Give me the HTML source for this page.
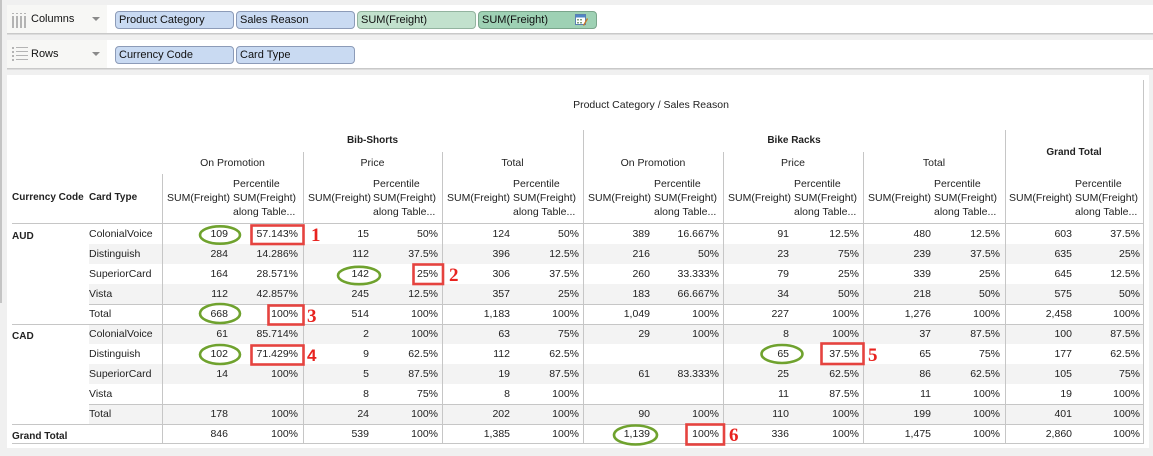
<!DOCTYPE html>
<html><head><meta charset="utf-8">
<style>
body{margin:0;width:1153px;height:456px;background:#f0f0f0;position:relative;overflow:hidden;font-family:"Liberation Sans",Arial,sans-serif;color:#222}
.a{position:absolute;white-space:nowrap}
.shelf{position:absolute;left:7px;width:1146px;height:28px;background:#fff;border-bottom:1px solid #c9c9c9;box-shadow:0 1px 0 #dcdcdc}
.slab{position:absolute;left:0;top:0;width:100px;height:28px;background:#f7f7f5}
.stxt{position:absolute;left:24px;top:0;line-height:28px;font-size:11px;color:#111}
.tri{position:absolute;left:85px;top:12px;width:0;height:0;border-left:4px solid transparent;border-right:4px solid transparent;border-top:4px solid #8a8a8a}
.pill{position:absolute;width:114px;height:16px;border:1px solid #8c9bb8;border-radius:4px;background:#c9daf2;font-size:11px;line-height:16px;padding-left:3px;box-sizing:content-box;color:#111}
.panel{position:absolute;left:7px;top:75px;width:1142px;height:373px;background:#fff}
.hl{position:absolute;height:1px;background:#c6c6c6}
.vl{position:absolute;width:1px;background:#c6c6c6}
.g{position:absolute;left:89px;width:1054px;height:20px;background:#f3f3f3}
.h{position:absolute;white-space:nowrap;font-size:10.5px;line-height:14px}
.hb{position:absolute;white-space:nowrap;font-size:10px;line-height:14px;font-weight:bold}
.c{text-align:center}
.r{position:absolute;left:0;width:1153px;height:20px;font-size:10.5px;line-height:20px}
.r span{position:absolute;top:0;text-align:right;white-space:nowrap}
.r .lab{left:89px;text-align:left}
.n0{left:162px;width:66px}.p0{left:228px;width:70px}
.n1{left:303px;width:66px}.p1{left:369px;width:69px}
.n2{left:442px;width:68px}.p2{left:510px;width:69px}
.n3{left:583px;width:67px}.p3{left:650px;width:69px}
.n4{left:723px;width:66px}.p4{left:789px;width:70px}
.n5{left:863px;width:68px}.p5{left:931px;width:69px}
.n6{left:1005px;width:67px}.p6{left:1072px;width:68px}
.cur{position:absolute;left:12px;font-size:10px;font-weight:bold;line-height:20px}
</style></head>
<body>
<div class="a" style="left:0;top:0;width:2px;height:303px;background:#c4c4c4"></div>

<!-- Columns shelf -->
<div class="shelf" style="top:5px">
  <div class="slab"></div>
  <svg class="a" style="left:5px;top:8px" width="16" height="15">
    <g fill="#b4b4b4">
      <rect x="0" y="0" width="2" height="1"/><rect x="4" y="0" width="2" height="1"/><rect x="8" y="0" width="2" height="1"/><rect x="12" y="0" width="2" height="1"/>
      <rect x="0" y="3" width="2" height="12"/><rect x="4" y="3" width="2" height="12"/><rect x="8" y="3" width="2" height="12"/><rect x="12" y="3" width="2" height="12"/>
    </g>
  </svg>
  <div class="stxt">Columns</div>
  <div class="tri"></div>
</div>
<!-- Rows shelf -->
<div class="shelf" style="top:40px">
  <div class="slab"></div>
  <svg class="a" style="left:5px;top:7px" width="16" height="15">
    <g fill="#b4b4b4">
      <rect x="0" y="0" width="2" height="2"/><rect x="4" y="0" width="12" height="1"/>
      <rect x="0" y="4" width="2" height="2"/><rect x="4" y="4" width="12" height="1"/>
      <rect x="0" y="8" width="2" height="2"/><rect x="4" y="8" width="12" height="1"/>
      <rect x="0" y="12" width="2" height="2"/><rect x="4" y="12" width="12" height="1"/>
    </g>
  </svg>
  <div class="stxt">Rows</div>
  <div class="tri"></div>
</div>

<div class="pill" style="left:115px;top:11px">Product Category</div>
<div class="pill" style="left:236px;top:11px">Sales Reason</div>
<div class="pill" style="left:357px;top:11px;background:#c2e1cd;border-color:#93b39f">SUM(Freight)</div>
<div class="pill" style="left:478px;top:11px;background:#9ed1b4;border-color:#7aa58b">SUM(Freight)</div>
<svg class="a" style="left:575px;top:14px" width="13" height="12">
  <rect x="0.5" y="0.5" width="10" height="10" fill="#fff" stroke="#5a7fb0"/>
  <rect x="1" y="1" width="9" height="2.5" fill="#4f86c6"/>
  <g fill="#7fa07f"><rect x="2" y="5" width="2" height="1.5"/><rect x="5" y="5" width="2" height="1.5"/><rect x="2" y="8" width="2" height="1.5"/><rect x="5" y="8" width="2" height="1.5"/></g>
  <path d="M8 11 L12 4 L13 5 L9 12 Z" fill="#c8782a"/>
</svg>
<div class="pill" style="left:115px;top:46px">Currency Code</div>
<div class="pill" style="left:236px;top:46px">Card Type</div>

<!-- Panel -->
<div class="panel"></div>

<!-- gray bands -->
<div class="g" style="top:244px"></div>
<div class="g" style="top:284px"></div>
<div class="g" style="top:324px"></div>
<div class="g" style="top:364px"></div>
<div class="g" style="top:404px"></div>

<!-- header text -->
<div class="h c" style="left:551px;width:200px;top:98px">Product Category / Sales Reason</div>
<div class="hb c" style="left:162px;width:421px;top:134px">Bib-Shorts</div>
<div class="hb c" style="left:583px;width:422px;top:134px">Bike Racks</div>
<div class="hb c" style="left:1005px;width:138px;top:146px">Grand Total</div>

<div class="h c" style="left:162px;width:141px;top:156px">On Promotion</div>
<div class="h c" style="left:303px;width:139px;top:156px">Price</div>
<div class="h c" style="left:442px;width:141px;top:156px">Total</div>
<div class="h c" style="left:583px;width:140px;top:156px">On Promotion</div>
<div class="h c" style="left:723px;width:140px;top:156px">Price</div>
<div class="h c" style="left:863px;width:142px;top:156px">Total</div>

<div class="hb" style="left:12px;top:191px">Currency Code</div>
<div class="hb" style="left:89px;top:191px">Card Type</div>

<!-- measure headers -->
<div class="h" style="left:167px;top:191px">SUM(Freight)</div>
<div class="h" style="left:233px;top:177px;line-height:14px">Percentile<br>SUM(Freight)<br>along Table...</div>
<div class="h" style="left:308px;top:191px">SUM(Freight)</div>
<div class="h" style="left:373px;top:177px">Percentile<br>SUM(Freight)<br>along Table...</div>
<div class="h" style="left:447px;top:191px">SUM(Freight)</div>
<div class="h" style="left:513px;top:177px">Percentile<br>SUM(Freight)<br>along Table...</div>
<div class="h" style="left:588px;top:191px">SUM(Freight)</div>
<div class="h" style="left:654px;top:177px">Percentile<br>SUM(Freight)<br>along Table...</div>
<div class="h" style="left:728px;top:191px">SUM(Freight)</div>
<div class="h" style="left:794px;top:177px">Percentile<br>SUM(Freight)<br>along Table...</div>
<div class="h" style="left:868px;top:191px">SUM(Freight)</div>
<div class="h" style="left:934px;top:177px">Percentile<br>SUM(Freight)<br>along Table...</div>
<div class="h" style="left:1009px;top:191px">SUM(Freight)</div>
<div class="h" style="left:1075px;top:177px">Percentile<br>SUM(Freight)<br>along Table...</div>

<!-- grid lines -->
<div class="hl" style="left:12px;width:1131px;top:223px"></div>
<div class="hl" style="left:89px;width:1054px;top:304px"></div>
<div class="hl" style="left:12px;width:1131px;top:324px"></div>
<div class="hl" style="left:89px;width:1054px;top:404px"></div>
<div class="hl" style="left:12px;width:1131px;top:424px"></div>
<div class="hl" style="left:12px;width:1131px;top:443px"></div>

<div class="vl" style="left:162px;top:174px;height:270px"></div>
<div class="vl" style="left:303px;top:152px;height:292px"></div>
<div class="vl" style="left:442px;top:152px;height:292px"></div>
<div class="vl" style="left:583px;top:130px;height:314px"></div>
<div class="vl" style="left:723px;top:152px;height:292px"></div>
<div class="vl" style="left:863px;top:152px;height:292px"></div>
<div class="vl" style="left:1005px;top:130px;height:314px"></div>
<div class="vl" style="left:1143px;top:80px;height:364px"></div>

<!-- currency labels -->
<div class="cur" style="top:227px">AUD</div>
<div class="cur" style="top:327px">CAD</div>
<div class="cur" style="top:427px">Grand Total</div>

<!-- rows -->
<div class="r" style="top:224px"><span class="lab">ColonialVoice</span>
<span class="n0">109</span><span class="p0">57.143%</span><span class="n1">15</span><span class="p1">50%</span><span class="n2">124</span><span class="p2">50%</span><span class="n3">389</span><span class="p3">16.667%</span><span class="n4">91</span><span class="p4">12.5%</span><span class="n5">480</span><span class="p5">12.5%</span><span class="n6">603</span><span class="p6">37.5%</span></div>
<div class="r" style="top:244px"><span class="lab">Distinguish</span>
<span class="n0">284</span><span class="p0">14.286%</span><span class="n1">112</span><span class="p1">37.5%</span><span class="n2">396</span><span class="p2">12.5%</span><span class="n3">216</span><span class="p3">50%</span><span class="n4">23</span><span class="p4">75%</span><span class="n5">239</span><span class="p5">37.5%</span><span class="n6">635</span><span class="p6">25%</span></div>
<div class="r" style="top:264px"><span class="lab">SuperiorCard</span>
<span class="n0">164</span><span class="p0">28.571%</span><span class="n1">142</span><span class="p1">25%</span><span class="n2">306</span><span class="p2">37.5%</span><span class="n3">260</span><span class="p3">33.333%</span><span class="n4">79</span><span class="p4">25%</span><span class="n5">339</span><span class="p5">25%</span><span class="n6">645</span><span class="p6">12.5%</span></div>
<div class="r" style="top:284px"><span class="lab">Vista</span>
<span class="n0">112</span><span class="p0">42.857%</span><span class="n1">245</span><span class="p1">12.5%</span><span class="n2">357</span><span class="p2">25%</span><span class="n3">183</span><span class="p3">66.667%</span><span class="n4">34</span><span class="p4">50%</span><span class="n5">218</span><span class="p5">50%</span><span class="n6">575</span><span class="p6">50%</span></div>
<div class="r" style="top:304px"><span class="lab">Total</span>
<span class="n0">668</span><span class="p0">100%</span><span class="n1">514</span><span class="p1">100%</span><span class="n2">1,183</span><span class="p2">100%</span><span class="n3">1,049</span><span class="p3">100%</span><span class="n4">227</span><span class="p4">100%</span><span class="n5">1,276</span><span class="p5">100%</span><span class="n6">2,458</span><span class="p6">100%</span></div>
<div class="r" style="top:324px"><span class="lab">ColonialVoice</span>
<span class="n0">61</span><span class="p0">85.714%</span><span class="n1">2</span><span class="p1">100%</span><span class="n2">63</span><span class="p2">75%</span><span class="n3">29</span><span class="p3">100%</span><span class="n4">8</span><span class="p4">100%</span><span class="n5">37</span><span class="p5">87.5%</span><span class="n6">100</span><span class="p6">87.5%</span></div>
<div class="r" style="top:344px"><span class="lab">Distinguish</span>
<span class="n0">102</span><span class="p0">71.429%</span><span class="n1">9</span><span class="p1">62.5%</span><span class="n2">112</span><span class="p2">62.5%</span><span class="n4">65</span><span class="p4">37.5%</span><span class="n5">65</span><span class="p5">75%</span><span class="n6">177</span><span class="p6">62.5%</span></div>
<div class="r" style="top:364px"><span class="lab">SuperiorCard</span>
<span class="n0">14</span><span class="p0">100%</span><span class="n1">5</span><span class="p1">87.5%</span><span class="n2">19</span><span class="p2">87.5%</span><span class="n3">61</span><span class="p3">83.333%</span><span class="n4">25</span><span class="p4">62.5%</span><span class="n5">86</span><span class="p5">62.5%</span><span class="n6">105</span><span class="p6">75%</span></div>
<div class="r" style="top:384px"><span class="lab">Vista</span>
<span class="n1">8</span><span class="p1">75%</span><span class="n2">8</span><span class="p2">100%</span><span class="n4">11</span><span class="p4">87.5%</span><span class="n5">11</span><span class="p5">100%</span><span class="n6">19</span><span class="p6">100%</span></div>
<div class="r" style="top:404px"><span class="lab">Total</span>
<span class="n0">178</span><span class="p0">100%</span><span class="n1">24</span><span class="p1">100%</span><span class="n2">202</span><span class="p2">100%</span><span class="n3">90</span><span class="p3">100%</span><span class="n4">110</span><span class="p4">100%</span><span class="n5">199</span><span class="p5">100%</span><span class="n6">401</span><span class="p6">100%</span></div>
<div class="r" style="top:424px">
<span class="n0">846</span><span class="p0">100%</span><span class="n1">539</span><span class="p1">100%</span><span class="n2">1,385</span><span class="p2">100%</span><span class="n3">1,139</span><span class="p3">100%</span><span class="n4">336</span><span class="p4">100%</span><span class="n5">1,475</span><span class="p5">100%</span><span class="n6">2,860</span><span class="p6">100%</span></div>

<!-- annotations -->
<svg class="a" style="left:0;top:0" width="1153" height="456">
  <g fill="none" stroke="#6fa22e" stroke-width="2.6">
    <ellipse cx="220" cy="235" rx="20" ry="8.7"/>
    <ellipse cx="359" cy="275.5" rx="21" ry="8.7"/>
    <ellipse cx="220" cy="313.5" rx="20" ry="9.5"/>
    <ellipse cx="220" cy="354.5" rx="20" ry="9.5"/>
    <ellipse cx="782" cy="354" rx="20.5" ry="9"/>
    <ellipse cx="635.5" cy="435" rx="21.5" ry="9.5"/>
  </g>
  <g fill="none" stroke="#e5433f" stroke-width="2.6">
    <rect x="251.5" y="225.5" width="52" height="18.5"/>
    <rect x="413.5" y="264.5" width="29.5" height="19.5"/>
    <rect x="268.5" y="305.5" width="35" height="19"/>
    <rect x="251.5" y="345.5" width="52" height="19"/>
    <rect x="821.5" y="343.5" width="42" height="20.5"/>
    <rect x="686.5" y="424.5" width="37.5" height="20"/>
  </g>
  <g fill="#e8231f" font-family="Liberation Serif, serif" font-weight="bold" font-size="19">
    <text x="311" y="241">1</text>
    <text x="449" y="281">2</text>
    <text x="307" y="322">3</text>
    <text x="868" y="361">5</text>
    <text x="729" y="441">6</text>
  </g>
  <text x="307" y="361" fill="#e8231f" font-family="Liberation Sans, sans-serif" font-weight="bold" font-size="17">4</text>
</svg>
</body></html>
